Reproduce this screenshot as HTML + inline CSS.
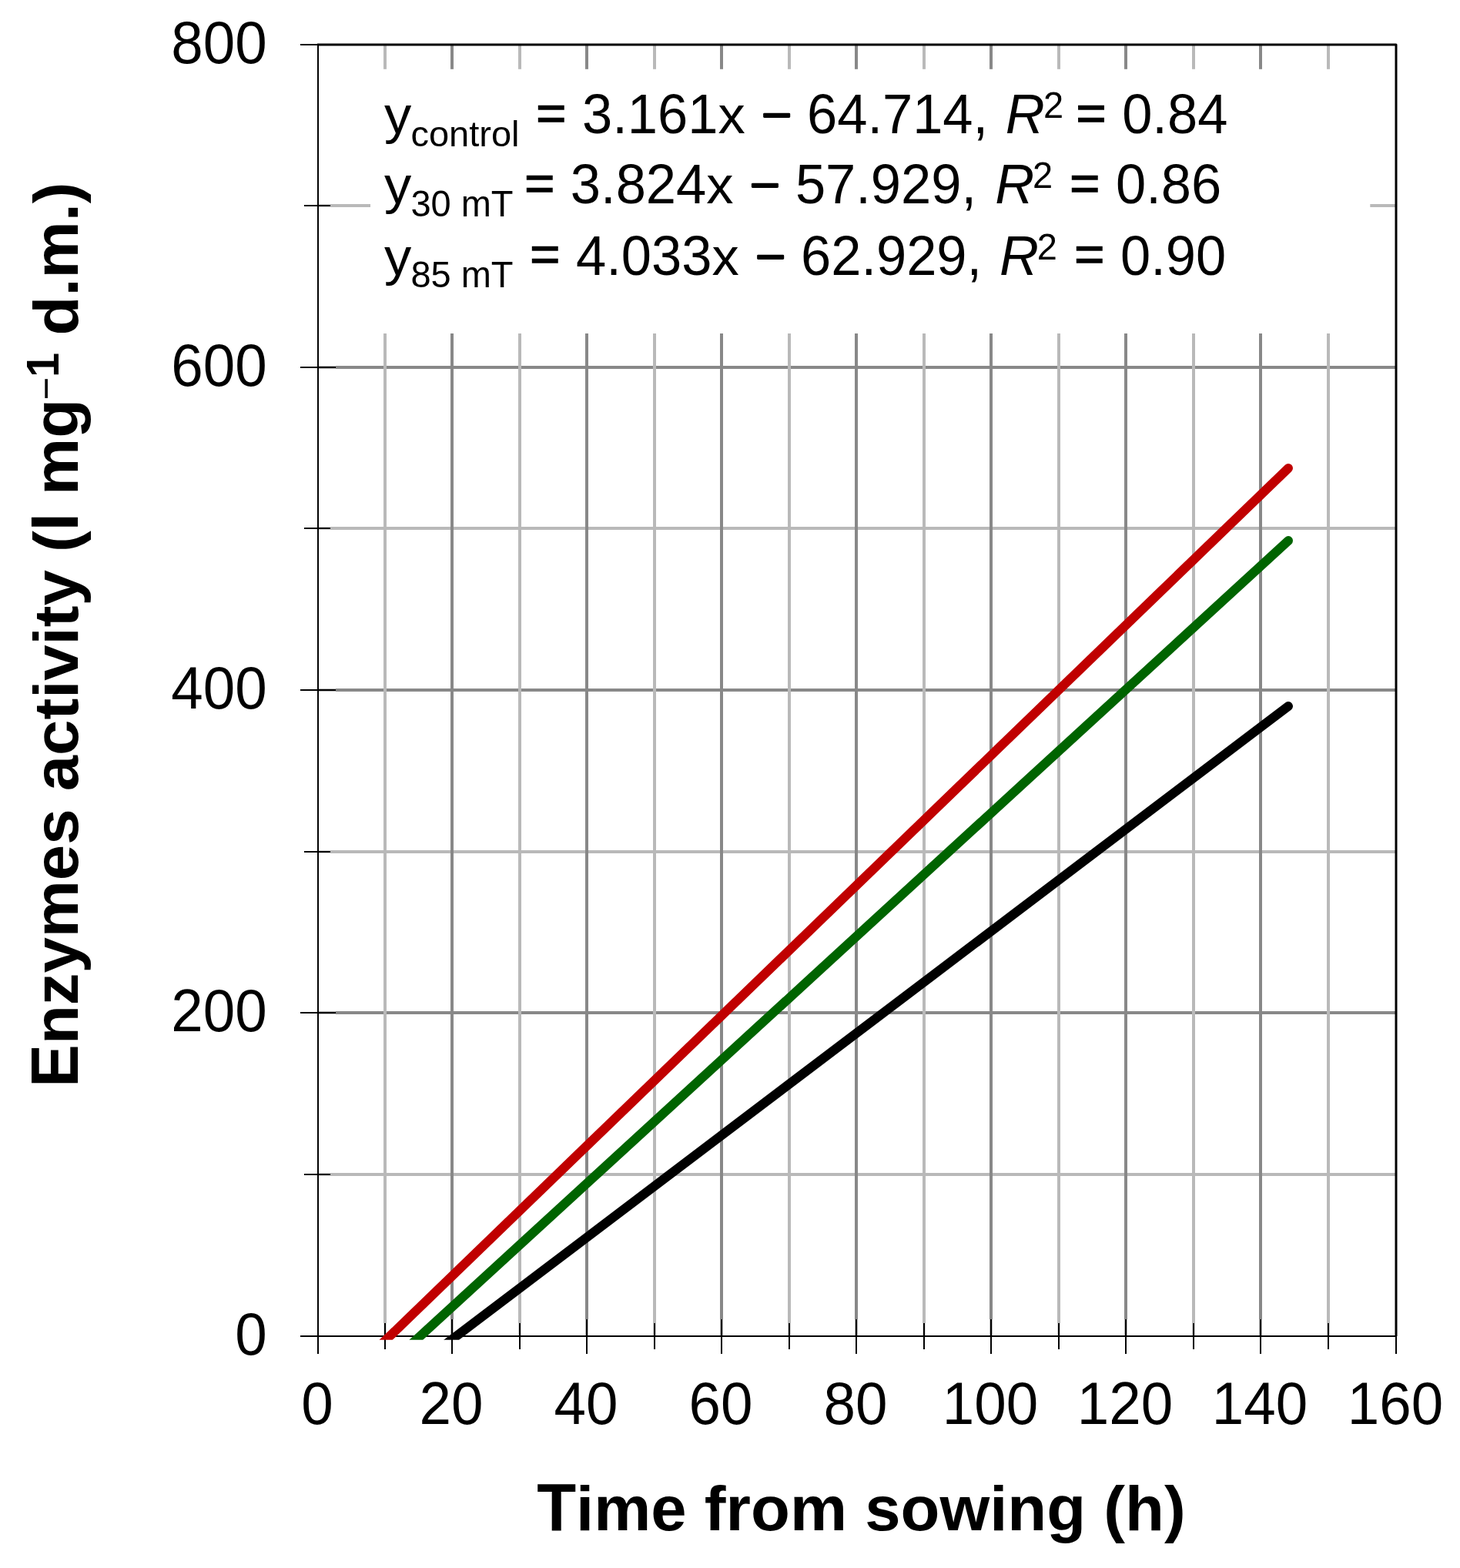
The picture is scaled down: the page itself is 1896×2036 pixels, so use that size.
<!DOCTYPE html>
<html lang="en"><head><meta charset="utf-8"><title>Enzymes activity vs time from sowing</title>
<style>html,body{margin:0;padding:0;background:#fff}svg{display:block}text{font-family:"Liberation Sans",Arial,Helvetica,sans-serif;fill:#000}.tk{font-size:74.6px}.eq{font-size:70.5px}.sb{font-size:47px}.ti{font-size:83.33px;font-weight:bold}.sp{font-size:57.5px}.it{font-style:italic}</style></head><body>
<svg width="1896" height="2036" viewBox="0 0 1896 2036">
<rect width="1896" height="2036" fill="#fff"/>
<g stroke-width="4" fill="none">
<line x1="413" x2="429" y1="1525" y2="1525" stroke="#b9b9b9" stroke-opacity="0.6"/>
<line x1="429" x2="1813" y1="1525" y2="1525" stroke="#b9b9b9"/>
<line x1="413" x2="436" y1="1315" y2="1315" stroke="#888888" stroke-opacity="0.6"/>
<line x1="436" x2="1813" y1="1315" y2="1315" stroke="#888888"/>
<line x1="413" x2="429" y1="1106" y2="1106" stroke="#b9b9b9" stroke-opacity="0.6"/>
<line x1="429" x2="1813" y1="1106" y2="1106" stroke="#b9b9b9"/>
<line x1="413" x2="436" y1="896" y2="896" stroke="#888888" stroke-opacity="0.6"/>
<line x1="436" x2="1813" y1="896" y2="896" stroke="#888888"/>
<line x1="413" x2="429" y1="686" y2="686" stroke="#b9b9b9" stroke-opacity="0.6"/>
<line x1="429" x2="1813" y1="686" y2="686" stroke="#b9b9b9"/>
<line x1="413" x2="436" y1="477" y2="477" stroke="#888888" stroke-opacity="0.6"/>
<line x1="436" x2="1813" y1="477" y2="477" stroke="#888888"/>
<line x1="413" x2="429" y1="267" y2="267" stroke="#b9b9b9" stroke-opacity="0.6"/>
<line x1="429" x2="1813" y1="267" y2="267" stroke="#b9b9b9"/>
<line x1="500" x2="500" y1="1718" y2="1735" stroke="#b9b9b9" stroke-opacity="0.6"/>
<line x1="500" x2="500" y1="58" y2="1718" stroke="#b9b9b9"/>
<line x1="587" x2="587" y1="1713" y2="1735" stroke="#888888" stroke-opacity="0.6"/>
<line x1="587" x2="587" y1="58" y2="1713" stroke="#888888"/>
<line x1="675" x2="675" y1="1718" y2="1735" stroke="#b9b9b9" stroke-opacity="0.6"/>
<line x1="675" x2="675" y1="58" y2="1718" stroke="#b9b9b9"/>
<line x1="762" x2="762" y1="1713" y2="1735" stroke="#888888" stroke-opacity="0.6"/>
<line x1="762" x2="762" y1="58" y2="1713" stroke="#888888"/>
<line x1="850" x2="850" y1="1718" y2="1735" stroke="#b9b9b9" stroke-opacity="0.6"/>
<line x1="850" x2="850" y1="58" y2="1718" stroke="#b9b9b9"/>
<line x1="937" x2="937" y1="1713" y2="1735" stroke="#888888" stroke-opacity="0.6"/>
<line x1="937" x2="937" y1="58" y2="1713" stroke="#888888"/>
<line x1="1025" x2="1025" y1="1718" y2="1735" stroke="#b9b9b9" stroke-opacity="0.6"/>
<line x1="1025" x2="1025" y1="58" y2="1718" stroke="#b9b9b9"/>
<line x1="1112" x2="1112" y1="1713" y2="1735" stroke="#888888" stroke-opacity="0.6"/>
<line x1="1112" x2="1112" y1="58" y2="1713" stroke="#888888"/>
<line x1="1200" x2="1200" y1="1718" y2="1735" stroke="#b9b9b9" stroke-opacity="0.6"/>
<line x1="1200" x2="1200" y1="58" y2="1718" stroke="#b9b9b9"/>
<line x1="1287" x2="1287" y1="1713" y2="1735" stroke="#888888" stroke-opacity="0.6"/>
<line x1="1287" x2="1287" y1="58" y2="1713" stroke="#888888"/>
<line x1="1375" x2="1375" y1="1718" y2="1735" stroke="#b9b9b9" stroke-opacity="0.6"/>
<line x1="1375" x2="1375" y1="58" y2="1718" stroke="#b9b9b9"/>
<line x1="1462" x2="1462" y1="1713" y2="1735" stroke="#888888" stroke-opacity="0.6"/>
<line x1="1462" x2="1462" y1="58" y2="1713" stroke="#888888"/>
<line x1="1550" x2="1550" y1="1718" y2="1735" stroke="#b9b9b9" stroke-opacity="0.6"/>
<line x1="1550" x2="1550" y1="58" y2="1718" stroke="#b9b9b9"/>
<line x1="1637" x2="1637" y1="1713" y2="1735" stroke="#888888" stroke-opacity="0.6"/>
<line x1="1637" x2="1637" y1="58" y2="1713" stroke="#888888"/>
<line x1="1725" x2="1725" y1="1718" y2="1735" stroke="#b9b9b9" stroke-opacity="0.6"/>
<line x1="1725" x2="1725" y1="58" y2="1718" stroke="#b9b9b9"/>
</g>
<rect x="481" y="89.8" width="1298.3" height="343.2" fill="#fff"/>
<path d="M412 58H1813V1735" stroke="#000" stroke-width="3" fill="none" stroke-linejoin="round"/>
<g stroke="#000" stroke-width="2" fill="none">
<line x1="390" x2="436" y1="1735" y2="1735"/>
<line x1="395" x2="429" y1="1525" y2="1525"/>
<line x1="390" x2="436" y1="1315" y2="1315"/>
<line x1="395" x2="429" y1="1106" y2="1106"/>
<line x1="390" x2="436" y1="896" y2="896"/>
<line x1="395" x2="429" y1="686" y2="686"/>
<line x1="390" x2="436" y1="477" y2="477"/>
<line x1="395" x2="429" y1="267" y2="267"/>
<line x1="390" x2="436" y1="58" y2="58"/>
<line x1="413" x2="413" y1="1713" y2="1758"/>
<line x1="500" x2="500" y1="1718" y2="1752"/>
<line x1="587" x2="587" y1="1713" y2="1758"/>
<line x1="675" x2="675" y1="1718" y2="1752"/>
<line x1="762" x2="762" y1="1713" y2="1758"/>
<line x1="850" x2="850" y1="1718" y2="1752"/>
<line x1="937" x2="937" y1="1713" y2="1758"/>
<line x1="1025" x2="1025" y1="1718" y2="1752"/>
<line x1="1112" x2="1112" y1="1713" y2="1758"/>
<line x1="1200" x2="1200" y1="1718" y2="1752"/>
<line x1="1287" x2="1287" y1="1713" y2="1758"/>
<line x1="1375" x2="1375" y1="1718" y2="1752"/>
<line x1="1462" x2="1462" y1="1713" y2="1758"/>
<line x1="1550" x2="1550" y1="1718" y2="1752"/>
<line x1="1637" x2="1637" y1="1713" y2="1758"/>
<line x1="1725" x2="1725" y1="1718" y2="1752"/>
<line x1="1813" x2="1813" y1="1713" y2="1758"/>
<line x1="413" x2="413" y1="58" y2="1736"/>
<line x1="412" x2="1814" y1="1735" y2="1735"/>
</g>
<defs><clipPath id="pc"><rect x="380" y="0" width="1500" height="1739.8"/></clipPath></defs>
<g clip-path="url(#pc)" stroke-width="12" stroke-linecap="round" fill="none">
<line x1="560.03" y1="1759.60" x2="1673.00" y2="917.00" stroke="#000"/>
<line x1="518.72" y1="1759.60" x2="1673.00" y2="702.10" stroke="#006400"/>
<line x1="480.69" y1="1759.60" x2="1673.00" y2="608.00" stroke="#c00000"/>
</g>
<g class="tk" text-anchor="end">
<text transform="translate(346.8 1759.20) scale(1 1.045)">0</text>
<text transform="translate(346.8 1339.20) scale(1 1.045)">200</text>
<text transform="translate(346.8 920.20) scale(1 1.045)">400</text>
<text transform="translate(346.8 501.20) scale(1 1.045)">600</text>
<text transform="translate(346.8 82.20) scale(1 1.045)">800</text>
</g>
<g class="tk" text-anchor="middle">
<text transform="translate(412.10 1848.7) scale(1 1.045)">0</text>
<text transform="translate(586.10 1848.7) scale(1 1.045)">20</text>
<text transform="translate(761.10 1848.7) scale(1 1.045)">40</text>
<text transform="translate(936.10 1848.7) scale(1 1.045)">60</text>
<text transform="translate(1111.10 1848.7) scale(1 1.045)">80</text>
<text transform="translate(1286.10 1848.7) scale(1 1.045)">100</text>
<text transform="translate(1461.10 1848.7) scale(1 1.045)">120</text>
<text transform="translate(1636.10 1848.7) scale(1 1.045)">140</text>
<text transform="translate(1812.10 1848.7) scale(1 1.045)">160</text>
</g>
<g class="ti">
<text transform="translate(697.20 1986.9) scale(1 1.04)">T</text>
<text transform="translate(748.10 1986.9) scale(1 0.982)">ime from sowing (h)</text>
</g>
<g class="ti" transform="translate(100.8 1411.7) rotate(-90)">
<text transform="translate(0.00 0) scale(1 1.04)">E</text>
<text transform="translate(55.58 0) scale(1 0.982)">nzymes activity (</text>
<text transform="translate(722.51 0) scale(1 1.04)">I</text>
<text transform="translate(768.81 0) scale(1 0.982)">mg</text>
<text x="892.5" y="-23.5" font-size="51" font-weight="normal">−</text>
<text class="sp" transform="translate(921.6 -24.7) scale(1 1.03)">1</text>
<text transform="translate(976.25 0) scale(1 0.982)">d.m.)</text>
</g>
<g>
<text class="eq" transform="translate(498.9 173.2) scale(1 0.985)">y</text>
<text class="sb" transform="translate(533.4 189.79999999999998) scale(1 1)">control</text>
<text class="eq" text-anchor="middle" transform="translate(715.79 168.68) scale(0.95 0.9)" stroke="#000" stroke-width="1.5" stroke-linejoin="miter">=</text>
<text class="eq" transform="translate(755.96 173.2) scale(1 1.03)">3.161</text>
<text class="eq" transform="translate(932.38 173.2) scale(1 0.982)">x</text>
<text class="eq" text-anchor="middle" transform="translate(1008.60 168.26) scale(0.9423 0.772)" stroke="#000" stroke-width="3" stroke-linejoin="round">−</text>
<text class="eq" transform="translate(1047.98 173.2) scale(1 1.03)">64.714,</text>
<text class="eq it" transform="translate(1305.7 173.2) scale(1 1.03)">R<tspan class="sb" font-style="normal" x="49.30" dy="-19.5">2</tspan></text>
<text class="eq" text-anchor="middle" transform="translate(1416.99 168.68) scale(0.95 0.9)" stroke="#000" stroke-width="1.5" stroke-linejoin="miter">=</text>
<text class="eq" transform="translate(1457.16 173.2) scale(1 1.03)">0.84</text>
</g>
<g>
<text class="eq" transform="translate(498.9 264.4) scale(1 0.985)">y</text>
<text class="sb" transform="translate(533.4 281.0) scale(1 1.03)">30 mT</text>
<text class="eq" text-anchor="middle" transform="translate(700.69 259.88) scale(0.95 0.9)" stroke="#000" stroke-width="1.5" stroke-linejoin="miter">=</text>
<text class="eq" transform="translate(740.86 264.4) scale(1 1.03)">3.824</text>
<text class="eq" transform="translate(917.28 264.4) scale(1 0.982)">x</text>
<text class="eq" text-anchor="middle" transform="translate(993.50 259.46) scale(0.9423 0.772)" stroke="#000" stroke-width="3" stroke-linejoin="round">−</text>
<text class="eq" transform="translate(1032.88 264.4) scale(1 1.03)">57.929,</text>
<text class="eq it" transform="translate(1292.3 264.4) scale(1 1.03)">R<tspan class="sb" font-style="normal" x="48.60" dy="-19.5">2</tspan></text>
<text class="eq" text-anchor="middle" transform="translate(1408.79 259.88) scale(0.95 0.9)" stroke="#000" stroke-width="1.5" stroke-linejoin="miter">=</text>
<text class="eq" transform="translate(1448.96 264.4) scale(1 1.03)">0.86</text>
</g>
<g>
<text class="eq" transform="translate(498.9 356.7) scale(1 0.985)">y</text>
<text class="sb" transform="translate(533.4 373.3) scale(1 1.03)">85 mT</text>
<text class="eq" text-anchor="middle" transform="translate(707.79 352.18) scale(0.95 0.9)" stroke="#000" stroke-width="1.5" stroke-linejoin="miter">=</text>
<text class="eq" transform="translate(747.96 356.7) scale(1 1.03)">4.033</text>
<text class="eq" transform="translate(924.38 356.7) scale(1 0.982)">x</text>
<text class="eq" text-anchor="middle" transform="translate(1000.60 351.76) scale(0.9423 0.772)" stroke="#000" stroke-width="3" stroke-linejoin="round">−</text>
<text class="eq" transform="translate(1039.98 356.7) scale(1 1.03)">62.929,</text>
<text class="eq it" transform="translate(1298.1 356.7) scale(1 1.03)">R<tspan class="sb" font-style="normal" x="48.60" dy="-19.5">2</tspan></text>
<text class="eq" text-anchor="middle" transform="translate(1414.89 352.18) scale(0.95 0.9)" stroke="#000" stroke-width="1.5" stroke-linejoin="miter">=</text>
<text class="eq" transform="translate(1455.06 356.7) scale(1 1.03)">0.90</text>
</g>
</svg></body></html>
